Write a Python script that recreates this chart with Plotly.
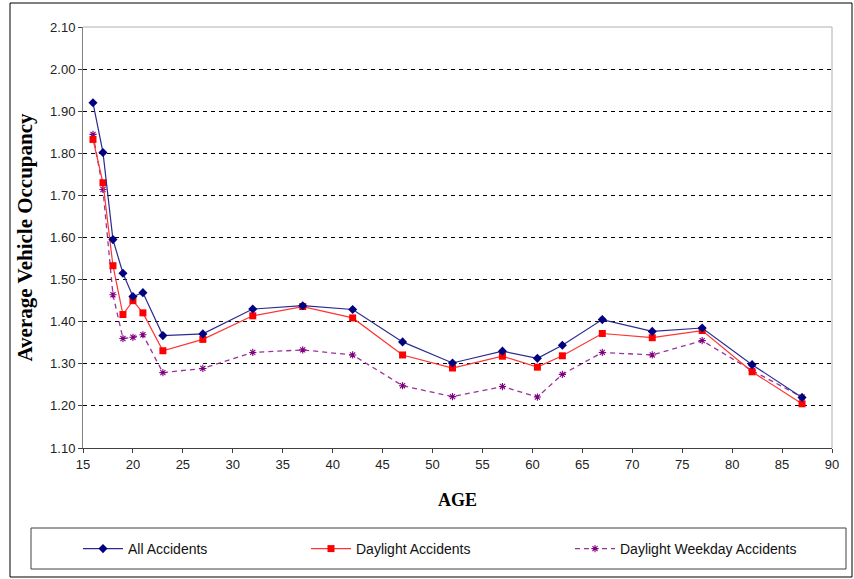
import plotly.graph_objects as go

ages = [16, 17, 18, 19, 20, 21, 23, 27, 32, 37, 42, 47, 52, 57, 60.5, 63, 67, 72, 77, 82, 87]
all_acc = [1.920, 1.802, 1.595, 1.515, 1.460, 1.469, 1.367, 1.371, 1.430, 1.438, 1.429, 1.352,
           1.302, 1.330, 1.313, 1.344, 1.405, 1.377, 1.385, 1.298, 1.220]
daylight = [1.833, 1.730, 1.533, 1.417, 1.450, 1.421, 1.331, 1.358, 1.414, 1.436, 1.409, 1.321,
            1.290, 1.318, 1.292, 1.319, 1.372, 1.362, 1.379, 1.281, 1.205]
weekday = [1.845, 1.714, 1.464, 1.360, 1.363, 1.369, 1.279, 1.289, 1.327, 1.333, 1.321, 1.248,
           1.222, 1.246, 1.221, 1.275, 1.327, 1.321, 1.355, 1.284, 1.221]
y_ticks = [1.10, 1.20, 1.30, 1.40, 1.50, 1.60, 1.70, 1.80, 1.90, 2.00, 2.10]
x_ticks = list(range(15, 95, 5))

W, H = 854, 579
L, R, T, B = 83, 22, 27, 131
pw, ph = W - L - R, H - T - B

def px(x):
    return (x - L) / pw

def py(y):
    return (H - B - y) / ph

fig = go.Figure()
fig.add_trace(go.Scatter(
    x=ages, y=weekday, name="Daylight Weekday Accidents", mode="lines+markers",
    line=dict(color="#993399", width=1.3, dash="5px,4px"),
    marker=dict(symbol="asterisk-open", size=6, color="#800080", line=dict(color="#800080", width=1.1)),
    legend="legend3"))
fig.add_trace(go.Scatter(
    x=ages, y=daylight, name="Daylight Accidents", mode="lines+markers",
    line=dict(color="#FF3333", width=1.2),
    marker=dict(symbol="square", size=7, color="#FF0000"),
    legend="legend2"))
fig.add_trace(go.Scatter(
    x=ages, y=all_acc, name="All Accidents", mode="lines+markers",
    line=dict(color="#2b2b8f", width=1.2),
    marker=dict(symbol="diamond", size=7, color="#000080"),
    legend="legend"))

tickfont = dict(family="Liberation Sans, Arial", size=13, color="#222222")
fig.update_layout(
    width=W, height=H,
    margin=dict(l=L, r=R, t=T, b=B, pad=0),
    paper_bgcolor="white", plot_bgcolor="white",
    xaxis=dict(range=[15, 90], tickvals=x_ticks, ticks="outside", ticklen=4, tickcolor="#404040",
               showgrid=False, showline=True, linecolor="#404040", linewidth=1,
               tickfont=tickfont, zeroline=False,
               title=dict(text="<b>AGE</b>", font=dict(family="Liberation Serif, Times New Roman", size=18, color="black"),
                          standoff=22)),
    yaxis=dict(range=[1.1, 2.1], tickvals=y_ticks, tickformat=".2f", ticks="outside", ticklen=4,
               tickcolor="#404040", showgrid=True, gridcolor="#000000", griddash="4px,4px", gridwidth=1,
               showline=True, linecolor="#808080", linewidth=1, tickfont=tickfont, zeroline=False,
               title=dict(text="<b>Average Vehicle Occupancy</b>",
                          font=dict(family="Liberation Serif, Times New Roman", size=21, color="black"),
                          standoff=11)),
    showlegend=True,
)
legfont = dict(family="Liberation Sans, Arial", size=14, color="#111111")
ly = py(549)
for name, xp in [("legend", 78), ("legend2", 306), ("legend3", 570)]:
    fig.update_layout({name: dict(x=px(xp), y=ly, xanchor="left", yanchor="middle",
                                  bgcolor="rgba(0,0,0,0)", borderwidth=0, font=legfont,
                                  itemwidth=40, orientation="h")})

# plot-area border (light gray, top/right), legend box, and outer frame
fig.add_shape(type="line", xref="paper", yref="paper", x0=0, x1=1, y0=1, y1=1,
              line=dict(color="#b0b0b0", width=1), layer="above")
fig.add_shape(type="line", xref="paper", yref="paper", x0=1, x1=1, y0=0, y1=1,
              line=dict(color="#b0b0b0", width=1), layer="above")
fig.add_shape(type="rect", xref="paper", yref="paper", x0=px(31), x1=px(846), y0=py(528), y1=py(569),
              line=dict(color="#404040", width=1), fillcolor="rgba(0,0,0,0)")
fig.add_shape(type="rect", xref="paper", yref="paper", x0=px(10), x1=px(852), y0=py(3), y1=py(577),
              line=dict(color="#000000", width=1), fillcolor="rgba(0,0,0,0)")

fig.write_html("out.html", config={"displayModeBar": False},
               post_script="document.body.style.margin='0';document.body.style.padding='0';")
